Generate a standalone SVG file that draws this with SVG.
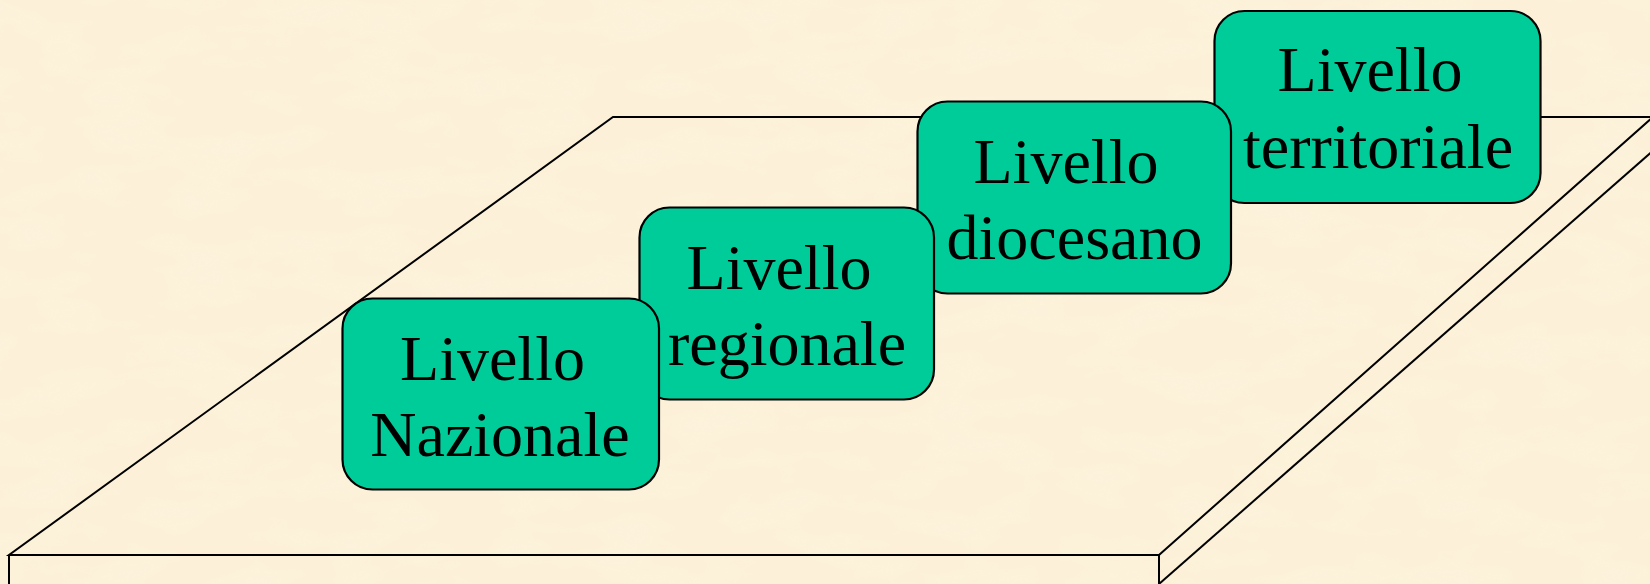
<svg xmlns="http://www.w3.org/2000/svg" width="1650" height="584" viewBox="0 0 1650 584">
<defs>
<style>
.bg{fill:#FCF1D8}
.slab{fill:none;stroke:#000;stroke-width:2;stroke-linejoin:miter}
.box{fill:#00CC99;stroke:#000;stroke-width:2.2}
.lbl{font-family:"Liberation Serif","Times New Roman",serif;font-size:64px;fill:#000;text-anchor:middle}
</style>
<filter id="paper" x="0" y="0" width="100%" height="100%">
<feTurbulence type="fractalNoise" baseFrequency="0.012 0.03" numOctaves="3" seed="7" result="n"/>
<feColorMatrix in="n" type="matrix" values="0 0 0 0 0.99  0 0 0 0 0.93  0 0 0 0 0.80  0 0 0 -1.6 0.9" result="tint"/>
<feComposite in="tint" in2="SourceGraphic" operator="in"/>
</filter>
</defs>
<rect class="bg" x="0" y="0" width="1650" height="584"/>
<rect x="0" y="0" width="1650" height="584" fill="#fff" filter="url(#paper)" opacity="0.35"/>
<g id="slab">
<polygon class="slab" points="613,117 1653,117 1159,555 9,555"/>
<polyline class="slab" points="9,555 9,590"/>
<polyline class="slab" points="1159,555 1159,590"/>
<polyline class="slab" points="1159,584 1655,149"/>
</g>
<g id="node-territoriale">
<rect class="box" x="1214.5" y="11" width="326" height="192" rx="30" ry="30"/>
<text class="lbl" x="1370" y="91">Livello</text>
<text class="lbl" x="1378" y="168">territoriale</text>
</g>
<g id="node-diocesano">
<rect class="box" x="917.5" y="101.5" width="313.5" height="192" rx="30" ry="30"/>
<text class="lbl" x="1066" y="182.5">Livello</text>
<text class="lbl" x="1074.5" y="259">diocesano</text>
</g>
<g id="node-regionale">
<rect class="box" x="639.5" y="207.5" width="294.5" height="192" rx="30" ry="30"/>
<text class="lbl" x="779" y="288.5">Livello</text>
<text class="lbl" x="787" y="364.5">regionale</text>
</g>
<g id="node-nazionale">
<rect class="box" x="342.5" y="298.5" width="316.5" height="191" rx="30" ry="30"/>
<text class="lbl" x="492.5" y="379.5">Livello</text>
<text class="lbl" x="500" y="456">Nazionale</text>
</g>
</svg>
